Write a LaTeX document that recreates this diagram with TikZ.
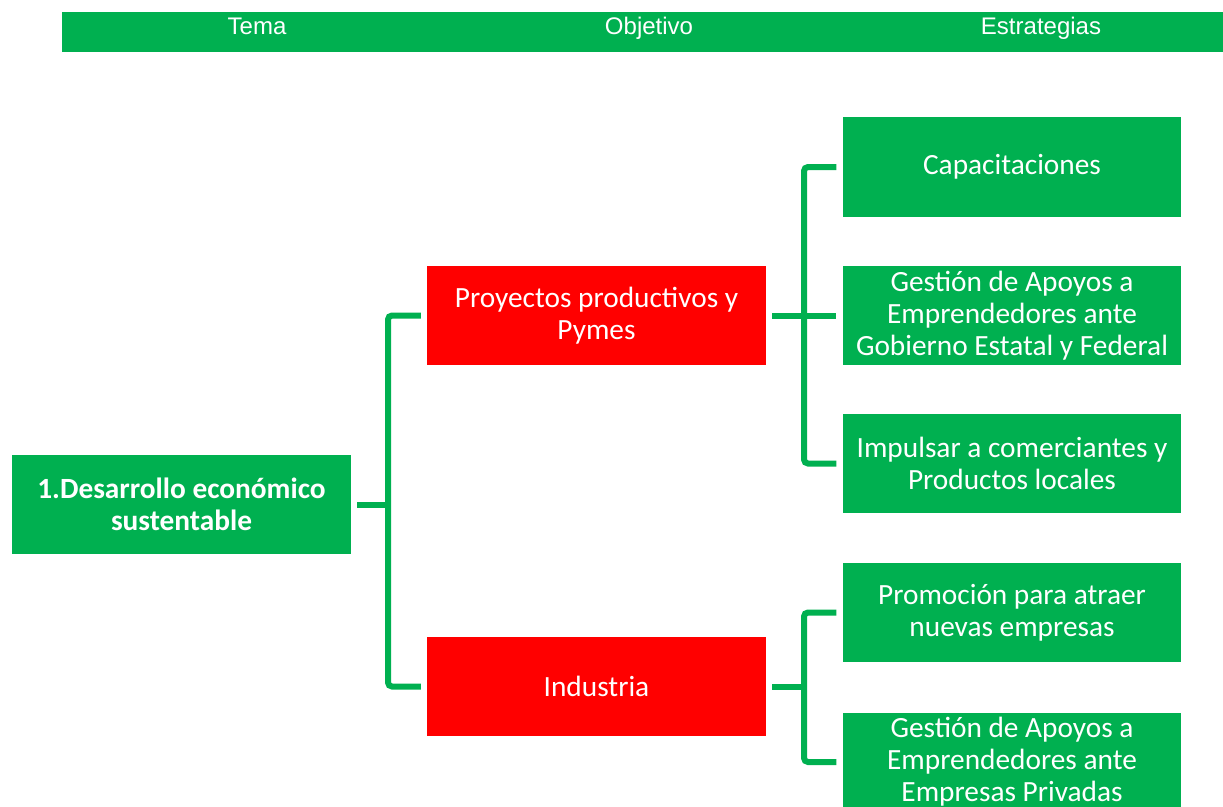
\documentclass[tikz,border=0pt]{standalone}
\usepackage{fontspec}
\setmainfont{Carlito}
\newfontfamily\headfont{Liberation Sans}
\definecolor{verde}{HTML}{00B050}
\definecolor{rojo}{HTML}{FF0000}
\begin{document}
\begin{tikzpicture}[x=0.75pt,y=-0.75pt,
  caja/.style={fill=verde,text=white,minimum width=254pt,minimum height=74.25pt,
    inner sep=0pt,align=center,font=\fontsize{22}{24}\selectfont},
  objetivo/.style={caja,fill=rojo},
  titulo/.style={text=white,anchor=base,inner sep=0pt,font=\headfont\fontsize{18}{20}\selectfont},
  conn/.style={draw=verde,line width=4.5pt,rounded corners=3pt}]
\path[use as bounding box,clip] (0,0) rectangle (1223,806);
% encabezado
\fill[verde] (62,12) rectangle (1223,52);
\node[titulo] (tema) at (257,35) {Tema};
\node[titulo] (obj) at (649,35) {Objetivo};
\node[titulo] (estr) at (1041,35) {Estrategias};
% tema
\node[caja,font=\bfseries\fontsize{22}{24}\selectfont] (raiz) at (181.5,504.5) {1.Desarrollo económico\\sustentable};
% objetivos
\node[objetivo] (proy) at (596.5,315.5) {Proyectos productivos y\\Pymes};
\node[objetivo] (ind) at (596.5,686.5) {Industria};
% estrategias
\node[caja] (capa) at (1012,167) {Capacitaciones};
\node[caja] (gest) at (1012,315.5) {Gestión de Apoyos a\\Emprendedores ante\\Gobierno Estatal y Federal};
\node[caja] (impu) at (1012,463.5) {Impulsar a comerciantes y\\Productos locales};
\node[caja] (prom) at (1012,612.5) {Promoción para atraer\\nuevas empresas};
\node[caja] (gest2) at (1012,762) {Gestión de Apoyos a\\Emprendedores ante\\Empresas Privadas};
% conectores
\coordinate (s1) at (388,0);
\coordinate (s2) at (804,0);
\draw[conn] ([xshift=4.5pt]raiz.east) -- (raiz -| s1);
\draw[conn] ([xshift=-4.5pt]proy.west) -| (s1 |- raiz) |- ([xshift=-4.5pt]ind.west);
\draw[conn] ([xshift=4.5pt]proy.east) -- ([xshift=-4.5pt]gest.west);
\draw[conn] ([xshift=-4.5pt]capa.west) -| (s2 |- gest) |- ([xshift=-4.5pt]impu.west);
\draw[conn] ([xshift=4.5pt]ind.east) -- (ind -| s2);
\draw[conn] ([xshift=-4.5pt]prom.west) -| (s2 |- ind) |- ([xshift=-4.5pt]gest2.west);
\end{tikzpicture}
\end{document}
